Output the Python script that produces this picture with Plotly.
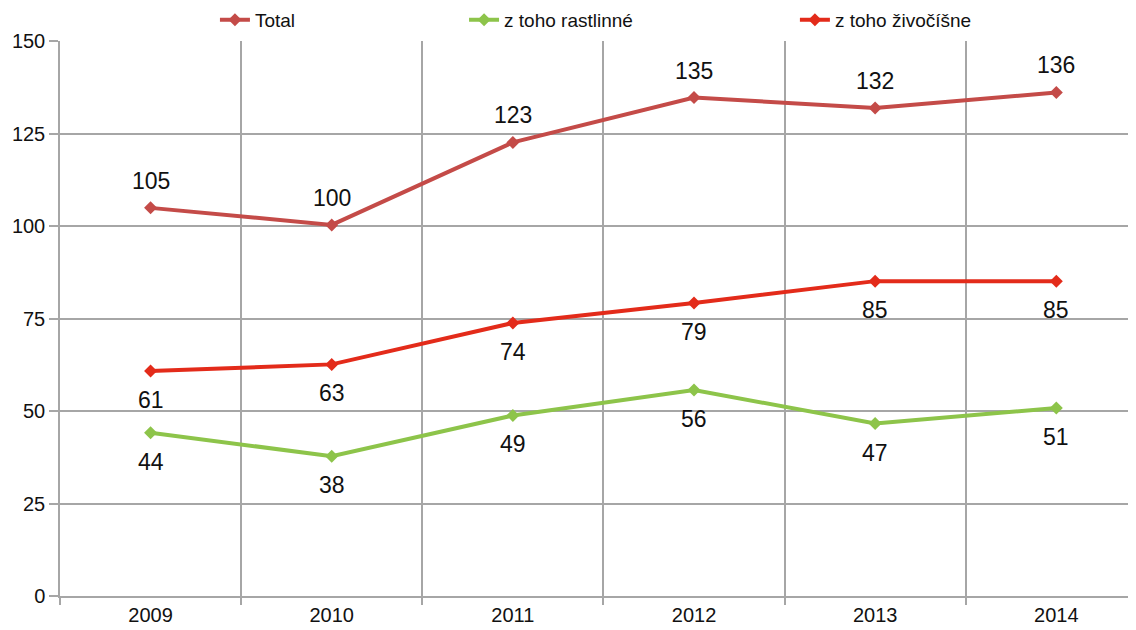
import plotly.graph_objects as go

years = ["2009", "2010", "2011", "2012", "2013", "2014"]
total = [104.9, 100.3, 122.6, 134.7, 131.9, 136.1]
rastlinne = [44.1, 37.8, 48.8, 55.7, 46.6, 50.8]
zivocisne = [60.8, 62.6, 73.8, 79.2, 85.1, 85.1]

series = [
    ("Total", total, "#c44b48", 27, "legend"),
    ("z toho rastlinné", rastlinne, "#8dc44a", -29, "legend2"),
    ("z toho živočíšne", zivocisne, "#e32b1a", -29, "legend3"),
]

fig = go.Figure()
for name, vals, color, shift, leg in series:
    fig.add_trace(go.Scatter(
        x=years, y=vals, name=name, mode="lines+markers",
        line=dict(color=color, width=4),
        marker=dict(symbol="diamond", size=10, color=color),
        legend=leg, showlegend=True,
    ))
    # labels, placed by category index
    for i, yv in enumerate(vals):
        fig.add_annotation(x=i, y=yv, xref="x", yref="y", text=f"{yv:.0f}",
                           showarrow=False, yshift=shift,
                           font=dict(size=23, color="#111"))

leg_style = dict(orientation="h", yanchor="middle", y=1.038, xanchor="left",
                 font=dict(size=19, color="#111"), bgcolor="rgba(0,0,0,0)")
# page body has an 8px margin, so the figure is shrunk by that much
fig.update_layout(
    width=1128, height=622, showlegend=True,
    margin=dict(l=52, r=0, t=33, b=34, autoexpand=False),
    paper_bgcolor="white", plot_bgcolor="white",
    font=dict(family="Liberation Sans, Arial, sans-serif", color="#111"),
    legend=dict(x=0.144, **leg_style),
    legend2=dict(x=0.3755, **leg_style),
    legend3=dict(x=0.683, **leg_style),
    xaxis=dict(
        type="category", range=[-0.5, 5.44], tickson="boundaries",
        showgrid=True, gridcolor="#a6a6a6", gridwidth=1.5,
        showline=True, linecolor="#a6a6a6", linewidth=1.5,
        ticks="outside", ticklen=7, tickcolor="#a6a6a6", tickwidth=1.5,
        tickfont=dict(size=20), zeroline=False,
    ),
    yaxis=dict(
        range=[0, 150], tickvals=[0, 25, 50, 75, 100, 125, 150],
        showgrid=True, gridcolor="#a6a6a6", gridwidth=1.5,
        showline=True, linecolor="#a6a6a6", linewidth=1.5,
        ticks="outside", ticklen=9, tickcolor="#a6a6a6", tickwidth=1.5,
        tickfont=dict(size=20), zeroline=False,
    ),
)

fig.write_html("out.html")
